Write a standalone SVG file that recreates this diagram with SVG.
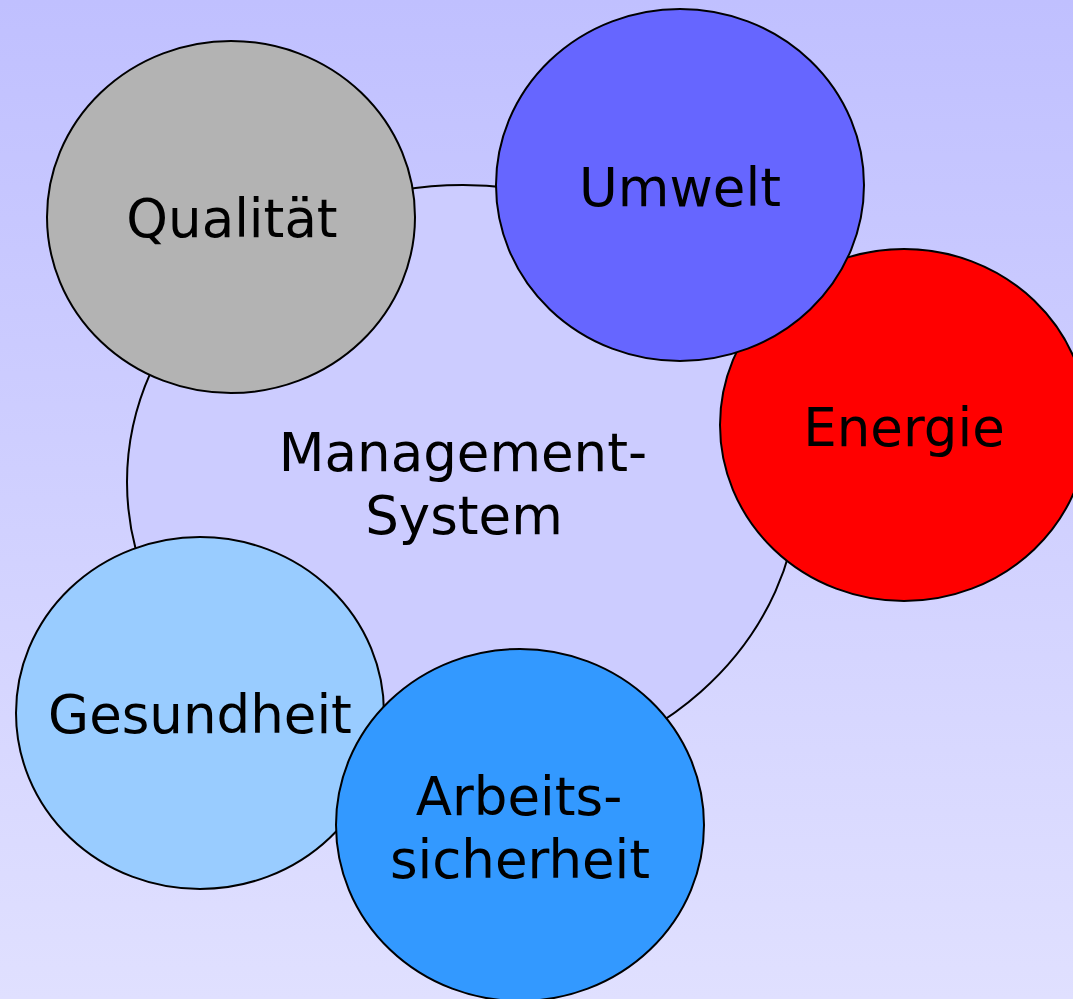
<svg xmlns="http://www.w3.org/2000/svg" width="1073" height="999" viewBox="0 0 1073 999">
  <defs>
    <linearGradient id="bg" x1="0" y1="0" x2="0" y2="1">
      <stop offset="0" stop-color="#c0c0ff"/>
      <stop offset="1" stop-color="#e0e0ff"/>
    </linearGradient>
  </defs>
  <style>
    .node { stroke: #000; stroke-width: 2; }
    .label { font-family: "DejaVu Sans", Verdana, sans-serif; font-size: 53px; fill: #000; text-anchor: middle; }
  </style>

  <!-- backdrop -->
  <rect x="0" y="0" width="1073" height="999" fill="url(#bg)"/>

  <!-- connectors (none: the topics sit on the rim of the central system) -->
  <g id="connectors"/>

  <!-- central system -->
  <g id="management-system">
    <ellipse class="node" cx="463" cy="482" rx="336" ry="297" fill="#ccccff"/>
    <text class="label" x="463" y="471">Management-</text>
    <text class="label" x="464" y="534">System</text>
  </g>

  <g id="qualitaet">
    <ellipse class="node" cx="231" cy="217" rx="184" ry="176" fill="#b3b3b3"/>
    <text class="label" x="232" y="237">Qualität</text>
  </g>

  <g id="energie">
    <ellipse class="node" cx="904" cy="425" rx="184" ry="176" fill="#ff0000"/>
    <text class="label" x="904" y="446">Energie</text>
  </g>

  <g id="umwelt">
    <ellipse class="node" cx="680" cy="185" rx="184" ry="176" fill="#6666ff"/>
    <text class="label" x="680" y="206">Umwelt</text>
  </g>

  <g id="gesundheit">
    <ellipse class="node" cx="200" cy="713" rx="184" ry="176" fill="#99ccff"/>
    <text class="label" x="200" y="733">Gesundheit</text>
  </g>

  <g id="arbeitssicherheit">
    <ellipse class="node" cx="520" cy="825" rx="184" ry="176" fill="#3399ff"/>
    <text class="label" x="519" y="815">Arbeits-</text>
    <text class="label" x="520" y="878">sicherheit</text>
  </g>
</svg>
